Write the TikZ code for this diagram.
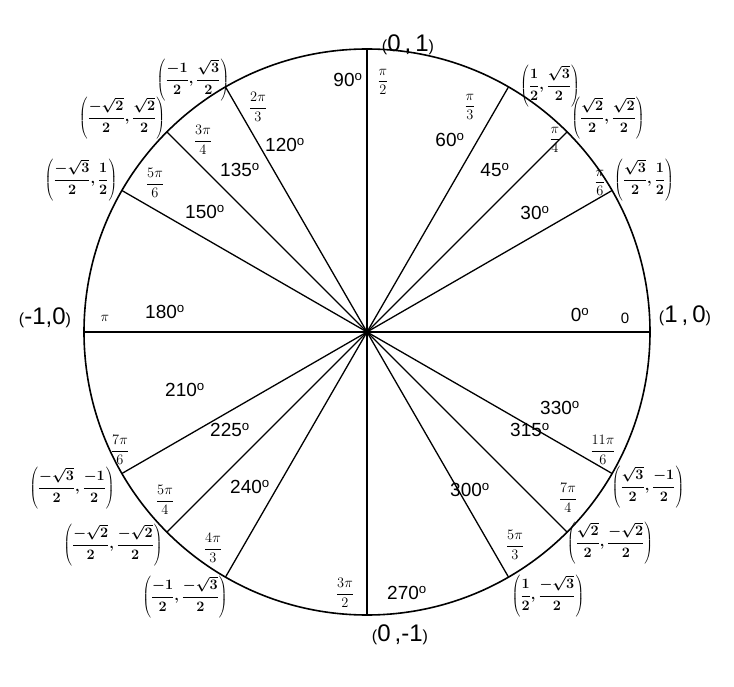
\documentclass[tikz,border=0pt]{standalone}
\usepackage{fontspec}
\setmainfont{Liberation Sans}
\newcommand{\fs}[1]{\fontsize{#1}{#1}\selectfont}
\begin{document}
\begin{tikzpicture}[x=1pt,y=-1pt,
  deg/.style={font=\fs{19}},
  rad/.style={font=\fs{15}},
  crd/.style={font=\fs{14}\boldmath, inner sep=0pt},
  big/.style={font=\fs{24}, inner sep=0pt}]
\useasboundingbox (0,0) rectangle (734,687);
\coordinate (O) at (367,332);
\draw[line width=1.6pt] (O) circle (283);
\foreach \a in {0,30,45,60,90,120,135,150,180,210,225,240,270,300,315,330}
  \draw[line width=1.3pt] (O) -- ++(-\a:283) coordinate (p\a);
% degree labels
\node[deg] (d90) at (348,80) {90$^{\mathrm o}$};
\node[deg] (d120) at (285,145) {120$^{\mathrm o}$};
\node[deg] (d135) at (240,170) {135$^{\mathrm o}$};
\node[deg] (d150) at (205,212) {150$^{\mathrm o}$};
\node[deg] (d180) at (165,312) {180$^{\mathrm o}$};
\node[deg] (d210) at (185,390) {210$^{\mathrm o}$};
\node[deg] (d225) at (230,430) {225$^{\mathrm o}$};
\node[deg] (d240) at (250,487) {240$^{\mathrm o}$};
\node[deg] (d270) at (407,593) {270$^{\mathrm o}$};
\node[deg] (d300) at (470,490) {300$^{\mathrm o}$};
\node[deg] (d315) at (530,430) {315$^{\mathrm o}$};
\node[deg] (d330) at (560,408) {330$^{\mathrm o}$};
\node[deg] (d0) at (580,315) {0$^{\mathrm o}$};
\node[deg] (d30) at (535,213) {30$^{\mathrm o}$};
\node[deg] (d45) at (495,170) {45$^{\mathrm o}$};
\node[deg] (d60) at (450,140) {60$^{\mathrm o}$};
% radian labels
\node[rad] (r90) at (383,82) {$\displaystyle\frac{\pi}{2}$};
\node[rad] (r120) at (258,107) {$\displaystyle\frac{2\pi}{3}$};
\node[rad] (r135) at (203,140) {$\displaystyle\frac{3\pi}{4}$};
\node[rad] (r150) at (155,183) {$\displaystyle\frac{5\pi}{6}$};
\node[rad] (r180) at (105,318) {$\pi$};
\node[rad] (r210) at (120,450) {$\displaystyle\frac{7\pi}{6}$};
\node[rad] (r225) at (165,500) {$\displaystyle\frac{5\pi}{4}$};
\node[rad] (r240) at (213,548) {$\displaystyle\frac{4\pi}{3}$};
\node[rad] (r270) at (345,593) {$\displaystyle\frac{3\pi}{2}$};
\node[rad] (r300) at (515,545) {$\displaystyle\frac{5\pi}{3}$};
\node[rad] (r315) at (568,498) {$\displaystyle\frac{7\pi}{4}$};
\node[rad] (r330) at (603,450) {$\displaystyle\frac{11\pi}{6}$};
\node[rad] (r0) at (625,318) {0};
\node[rad] (r30) at (600,183) {$\displaystyle\frac{\pi}{6}$};
\node[rad] (r45) at (555,140) {$\displaystyle\frac{\pi}{4}$};
\node[rad] (r60) at (470,107) {$\displaystyle\frac{\pi}{3}$};
% coordinates
\node[big] (c90) at (408,45) {{\fs{16}(}0\,,\,1{\fs{16})}};
\node[big] (c0) at (685,316) {{\fs{16}(}1\,,\,0{\fs{16})}};
\node[big] (c270) at (400,635) {{\fs{16}(}0\,,-1{\fs{16})}};
\node[big] (c180) at (45,318) {{\fs{16}(}-1,0{\fs{16})}};
\node[crd] (c60) at (550,86) {$\displaystyle\left(\frac{1}{2},\frac{\sqrt3}{2}\right)$};
\node[crd] (c45) at (608,118) {$\displaystyle\left(\frac{\sqrt2}{2},\frac{\sqrt2}{2}\right)$};
\node[crd] (c30) at (644,180) {$\displaystyle\left(\frac{\sqrt3}{2},\frac{1}{2}\right)$};
\node[crd] (c330) at (648,487) {$\displaystyle\left(\frac{\sqrt3}{2},\frac{-1}{2}\right)$};
\node[crd] (c315) at (610,543) {$\displaystyle\left(\frac{\sqrt2}{2},\frac{-\sqrt2}{2}\right)$};
\node[crd] (c300) at (548,596) {$\displaystyle\left(\frac{1}{2},\frac{-\sqrt3}{2}\right)$};
\node[crd] (c240) at (185,597) {$\displaystyle\left(\frac{-1}{2},\frac{-\sqrt3}{2}\right)$};
\node[crd] (c225) at (113,545) {$\displaystyle\left(\frac{-\sqrt2}{2},\frac{-\sqrt2}{2}\right)$};
\node[crd] (c210) at (72,488) {$\displaystyle\left(\frac{-\sqrt3}{2},\frac{-1}{2}\right)$};
\node[crd] (c150) at (81,180) {$\displaystyle\left(\frac{-\sqrt3}{2},\frac{1}{2}\right)$};
\node[crd] (c135) at (122,118) {$\displaystyle\left(\frac{-\sqrt2}{2},\frac{\sqrt2}{2}\right)$};
\node[crd] (c120) at (193,80) {$\displaystyle\left(\frac{-1}{2},\frac{\sqrt3}{2}\right)$};
\end{tikzpicture}
\end{document}
